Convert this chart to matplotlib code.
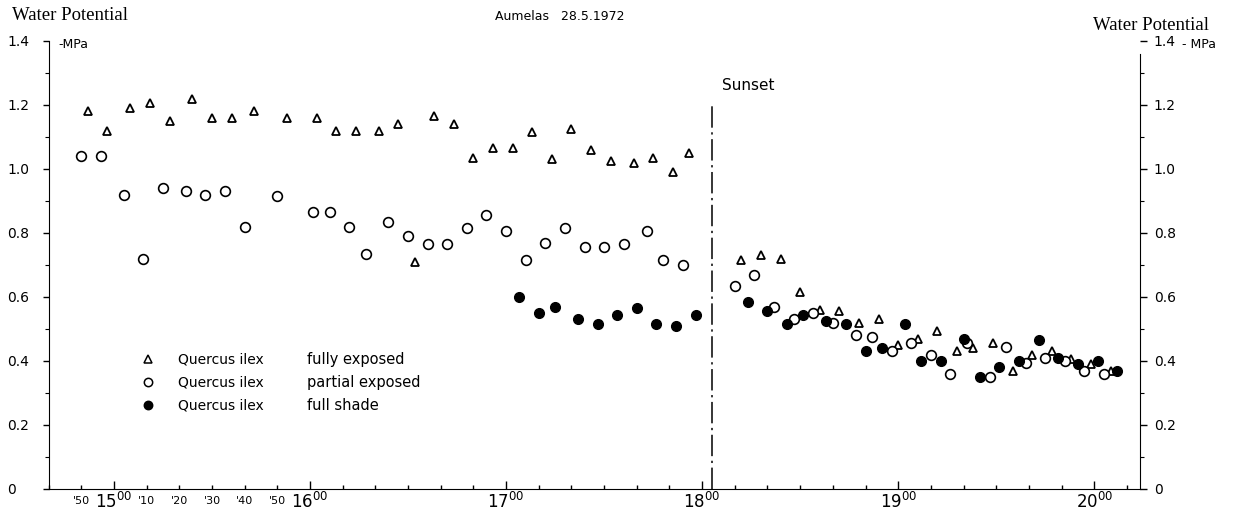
import matplotlib.pyplot as plt
from matplotlib.ticker import FixedLocator, FuncFormatter, MultipleLocator

plt.rcParams['font.family'] = ['DejaVu Sans']

# Quercus ilex, Aumelas 28.5.1972 -- water potential (-MPa) against time of day
exposed_time = ['14:52', '14:58', '15:05', '15:11', '15:17', '15:24', '15:30', '15:36',
                '15:43', '15:53', '16:02', '16:08', '16:14', '16:21', '16:27', '16:32',
                '16:38', '16:44', '16:50', '16:56', '17:02', '17:08', '17:14', '17:20',
                '17:26', '17:32', '17:39', '17:45', '17:51', '17:56',
                '18:12', '18:18', '18:24', '18:30', '18:36', '18:42', '18:48', '18:54',
                '19:00', '19:06', '19:12', '19:18', '19:23', '19:29', '19:35', '19:41',
                '19:47', '19:53', '19:59', '20:05']
exposed_mpa = [1.18, 1.12, 1.19, 1.205, 1.15, 1.22, 1.16, 1.16, 1.18, 1.16, 1.16, 1.12,
               1.12, 1.12, 1.14, 0.71, 1.165, 1.14, 1.035, 1.065, 1.065, 1.115, 1.03,
               1.125, 1.06, 1.025, 1.02, 1.035, 0.99, 1.05,
               0.715, 0.73, 0.72, 0.615, 0.56, 0.555, 0.52, 0.53, 0.45, 0.47, 0.495,
               0.43, 0.44, 0.455, 0.37, 0.42, 0.43, 0.405, 0.39, 0.37]

partial_time = ['14:50', '14:56', '15:03', '15:09', '15:15', '15:22', '15:28', '15:34',
                '15:40', '15:50', '16:01', '16:06', '16:12', '16:17', '16:24', '16:30',
                '16:36', '16:42', '16:48', '16:54', '17:00', '17:06', '17:12', '17:18',
                '17:24', '17:30', '17:36', '17:43', '17:48', '17:54',
                '18:10', '18:16', '18:22', '18:28', '18:34', '18:40', '18:47', '18:52',
                '18:58', '19:04', '19:10', '19:16', '19:21', '19:28', '19:33', '19:39',
                '19:45', '19:51', '19:57', '20:03']
partial_mpa = [1.04, 1.04, 0.92, 0.72, 0.94, 0.93, 0.92, 0.93, 0.82, 0.915, 0.865, 0.865,
               0.82, 0.735, 0.835, 0.79, 0.765, 0.765, 0.815, 0.855, 0.805, 0.715, 0.77,
               0.815, 0.755, 0.755, 0.765, 0.805, 0.715, 0.70,
               0.635, 0.67, 0.57, 0.53, 0.55, 0.52, 0.48, 0.475, 0.43, 0.455, 0.42,
               0.36, 0.455, 0.35, 0.445, 0.395, 0.41, 0.40, 0.37, 0.36]

shade_time = ['17:04', '17:10', '17:15', '17:22', '17:28', '17:34', '17:40', '17:46',
              '17:52', '17:58',
              '18:14', '18:20', '18:26', '18:31', '18:38', '18:44', '18:50', '18:55',
              '19:02', '19:07', '19:13', '19:20', '19:25', '19:31', '19:37', '19:43',
              '19:49', '19:55', '20:01', '20:07']
shade_mpa = [0.60, 0.55, 0.57, 0.53, 0.515, 0.545, 0.565, 0.515, 0.51, 0.545,
             0.585, 0.555, 0.515, 0.545, 0.525, 0.515, 0.43, 0.44, 0.515, 0.40,
             0.40, 0.47, 0.35, 0.38, 0.40, 0.465, 0.41, 0.39, 0.40, 0.37]

sunset_time = '18:03'
hour_ticks = [15, 16, 17, 18, 19, 20]
minute_labels = {'14:50': "'50", '15:10': "'10", '15:20': "'20", '15:30': "'30",
                 '15:40': "'40", '15:50': "'50"}


def hours(s):
    h, m = s.split(':')
    return int(h) + int(m) / 60


def ylab(v, p):
    return '0' if abs(v) < 1e-9 else '%.1f' % v


fig = plt.figure(figsize=(12.41, 5.18), dpi=100)
ax = fig.add_axes([0.0392, 0.056, 0.8794, 0.865])

ax.plot([hours(t) for t in exposed_time], exposed_mpa, ls='none', marker='^',
        ms=6, mfc='white', mec='black', mew=1.3)
ax.plot([hours(t) for t in partial_time], partial_mpa, ls='none', marker='o',
        ms=7, mfc='white', mec='black', mew=1.2)
ax.plot([hours(t) for t in shade_time], shade_mpa, ls='none', marker='o',
        ms=7, mfc='black', mec='black')

ax.vlines(hours(sunset_time), 0, 1.2, colors='black', lw=1.1,
          linestyles=(0, (14, 3, 1.5, 3)))
ax.text(hours(sunset_time) + 0.05, 1.26, 'Sunset', fontsize=11, va='center')

ax.set_xlim(hours('14:40'), hours('20:14'))
ax.set_ylim(0, 1.4)
ax.spines['top'].set_visible(False)
ax.spines['right'].set_visible(False)

# x axis: hours with superscript 00, ten-minute ticks
ax.xaxis.set_major_locator(FixedLocator(hour_ticks))
ax.xaxis.set_major_formatter(FuncFormatter(lambda v, p: r'$\mathregular{%d^{00}}$' % round(v)))
minor_pos = [hours('14:40') + i / 6 for i in range(34)]
ax.xaxis.set_minor_locator(FixedLocator(minor_pos))
label_pos = {round(hours(k), 3): v for k, v in minute_labels.items()}
ax.xaxis.set_minor_formatter(FuncFormatter(lambda v, p: label_pos.get(round(v, 3), '')))
ax.tick_params(axis='x', which='major', direction='in', length=6, width=1.0,
               labelsize=12, pad=2)
ax.tick_params(axis='x', which='minor', direction='in', length=3, width=1.0,
               labelsize=8, pad=5)

# left y axis, labels set flush left near the figure edge
ax.yaxis.set_major_locator(MultipleLocator(0.2))
ax.yaxis.set_minor_locator(MultipleLocator(0.1))
ax.yaxis.set_major_formatter(FuncFormatter(ylab))
ax.tick_params(axis='y', which='major', direction='out', length=4, width=1.0,
               labelsize=10, pad=26)
ax.tick_params(axis='y', which='minor', direction='out', length=3, width=0.8)
plt.setp(ax.get_yticklabels(), ha='left')

# right y axis
ax2 = ax.twinx()
ax2.set_ylim(0, 1.4)
for s in ['top', 'left', 'bottom']:
    ax2.spines[s].set_visible(False)
ax2.spines['right'].set_bounds(0, 1.36)
ax2.yaxis.set_major_locator(MultipleLocator(0.2))
ax2.yaxis.set_minor_locator(MultipleLocator(0.1))
ax2.yaxis.set_major_formatter(FuncFormatter(ylab))
ax2.tick_params(axis='y', which='major', direction='out', length=5, width=1.0,
                labelsize=10, pad=5)
ax2.tick_params(axis='y', which='minor', direction='out', length=3, width=0.8)

fig.text(12 / 1241, 1 - 16 / 518, 'Water Potential', family='Liberation Serif',
         fontsize=13.5, va='center', ha='left')
fig.text(1209 / 1241, 1 - 25 / 518, 'Water Potential', family='Liberation Serif',
         fontsize=13.5, va='center', ha='right')
fig.text(58 / 1241, 1 - 45 / 518, '-MPa', fontsize=9, va='center', ha='left')
fig.text(1182 / 1241, 1 - 45 / 518, '- MPa', fontsize=9, va='center', ha='left')
fig.text(560 / 1241, 1 - 17 / 518, 'Aumelas   28.5.1972', fontsize=9, va='center',
         ha='center')

# legend drawn by hand, two aligned text columns
legend_rows = [('^', 'white', 'fully exposed'), ('o', 'white', 'partial exposed'),
               ('o', 'black', 'full shade')]
for i, (m, fc, txt) in enumerate(legend_rows):
    y = 0.290 - i * 0.0513
    ax.plot([0.091], [y], transform=ax.transAxes, marker=m, ms=5.5 if m == '^' else 6,
            mfc=fc, mec='black', mew=1.1, ls='none', clip_on=False)
    ax.text(0.1185, y, 'Quercus ilex', transform=ax.transAxes, fontsize=10, va='center')
    ax.text(0.2367, y, txt, transform=ax.transAxes, fontsize=10.5, va='center')

fig.savefig('out.png', dpi=100)
